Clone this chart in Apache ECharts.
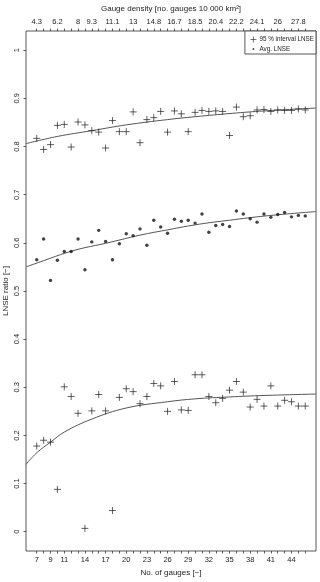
<!DOCTYPE html>
<html><head><meta charset="utf-8">
<script src="https://cdn.jsdelivr.net/npm/echarts@6/dist/echarts.min.js"></script>
<style>html,body{margin:0;padding:0;background:#fff}#c{width:320px;height:582px}</style>
</head><body><div id="c"></div>
<script>
// ---- data ----
const gauges = [7,8,9,10,11,12,13,14,15,16,17,18,19,20,21,22,23,24,25,26,27,28,29,30,31,32,33,34,35,36,37,38,39,40,41,42,43,44,45,46];
const upper95 = [0.817,0.794,0.804,0.844,0.846,0.799,0.851,0.845,0.833,0.830,0.797,0.854,0.831,0.831,0.872,0.808,0.856,0.860,0.873,0.830,0.874,0.868,0.831,0.871,0.875,0.873,0.874,0.873,0.823,0.882,0.862,0.864,0.876,0.877,0.873,0.876,0.875,0.875,0.878,0.876];
const avgLNSE = [0.565,0.608,0.522,0.564,0.582,0.582,0.608,0.544,0.602,0.626,0.603,0.565,0.598,0.619,0.615,0.629,0.595,0.647,0.633,0.620,0.649,0.645,0.647,0.641,0.660,0.622,0.636,0.638,0.634,0.666,0.660,0.650,0.643,0.660,0.653,0.659,0.663,0.654,0.657,0.656];
const lower95 = [0.178,0.190,0.186,0.088,0.301,0.281,0.246,0.007,0.251,0.285,0.251,0.044,0.279,0.297,0.291,0.266,0.281,0.308,0.303,0.250,0.312,0.253,0.252,0.326,0.326,0.281,0.268,0.277,0.294,0.312,0.290,0.259,0.275,0.261,0.303,0.261,0.273,0.270,0.261,0.261];
// fitted curves
const upperFitX = [5.44,10,15,20,26,30,35.4,40,47.56];
const upperFitY = [0.806,0.821,0.833,0.845,0.856,0.862,0.869,0.874,0.880];
const avgFitX = [5.44,8,11.4,14,17,22,26,30.7,35,40.3,47.56];
const avgFitY = [0.550,0.563,0.580,0.590,0.599,0.616,0.627,0.639,0.647,0.656,0.665];
const lowerFitX = [5.44,7,9,11,15,20,26,30,35,40,47.56];
const lowerFitY = [0.140,0.164,0.186,0.207,0.234,0.257,0.270,0.276,0.280,0.283,0.286];
// axis ticks / labels
const xTickLabels = [7,9,11,14,17,20,23,26,29,32,35,38,41,44];
const densityPos = [7,10,13,15,18,21,24,27,30,33,36,39,42,45];
const densityLabels = ['4.3','6.2','8','9.3','11.1','13','14.8','16.7','18.5','20.4','22.2','24.1','26','27.8'];
const yTicks = [0,0.1,0.2,0.3,0.4,0.5,0.6,0.7,0.8,0.9,1];
const yTickLabels = ['0','0.1','0.2','0.3','0.4','0.5','0.6','0.7','0.8','0.9','1'];

const FONT = 'Liberation Sans';
const plusPath = 'path://M0,5L10,5M5,0L5,10';
const dotPath = 'path://M0,0M10,10M3.5,5A1.5,1.5,0,1,0,6.5,5A1.5,1.5,0,1,0,3.5,5Z';
const zip = (xs, ys) => xs.map((x, i) => [x, ys[i]]);

const chart = echarts.init(document.getElementById('c'), null, {renderer: 'canvas'});
const axisCommon = {
  type: 'value', min: 5.44, max: 47.56,
  axisLine: {show: false, onZero: false}, splitLine: {show: false},
  axisTick: {show: true, length: 2.5, lineStyle: {color: '#333', width: 0.8}, customValues: gauges},
};
chart.setOption({
  animation: false,
  textStyle: {fontFamily: FONT},
  grid: {left: 26, right: 4, top: 31, bottom: 31, show: true, borderColor: '#444', borderWidth: 0.9,
    backgroundColor: '#fff', containLabel: false, outerBoundsMode: 'none'},
  xAxis: [
    Object.assign({}, axisCommon, {
      position: 'bottom',
      name: 'No. of gauges [\u2212]', nameLocation: 'middle', nameGap: 18,
      nameTextStyle: {fontFamily: FONT, fontSize: 8, color: '#222'},
      axisLabel: {customValues: xTickLabels, fontFamily: FONT, fontSize: 7.5, color: '#222', margin: 5}
    }),
    Object.assign({}, axisCommon, {
      position: 'top',
      name: 'Gauge density [no. gauges 10 000 km\u00b2]', nameLocation: 'middle', nameGap: 18,
      nameTextStyle: {fontFamily: FONT, fontSize: 8, color: '#222'},
      axisLabel: {customValues: densityPos, fontFamily: FONT, fontSize: 7.5, color: '#222', margin: 5,
        formatter: v => { const i = densityPos.indexOf(Math.round(v)); return i >= 0 ? densityLabels[i] : ''; }}
    })
  ],
  yAxis: {
    type: 'value', min: -0.04, max: 1.04,
    axisLine: {show: false, onZero: false}, splitLine: {show: false},
    axisTick: {show: true, length: 2.5, lineStyle: {color: '#333', width: 0.8}, customValues: yTicks},
    axisLabel: {customValues: yTicks, rotate: 90, fontFamily: FONT, fontSize: 7.5, color: '#222', margin: 5,
      formatter: v => { const i = yTicks.findIndex(t => Math.abs(t - v) < 1e-6); return i >= 0 ? yTickLabels[i] : ''; }},
    name: 'LNSE ratio [\u2212]', nameLocation: 'middle', nameGap: 16, nameMoveOverlap: false,
    nameTextStyle: {fontFamily: FONT, fontSize: 8, color: '#222'}
  },
  legend: {
    orient: 'vertical', right: 4, top: 31, z: 10,
    backgroundColor: '#fff', borderColor: '#444', borderWidth: 0.9, borderRadius: 0,
    padding: [3, 2, 2, 3], itemGap: 1, itemWidth: 6, itemHeight: 6,
    textStyle: {fontFamily: FONT, fontSize: 6.3, color: '#222', padding: [0, 0, 0, -2]},
    data: [
      {name: '95 % interval LNSE', icon: plusPath, itemStyle: {color: 'none', borderColor: '#222', borderWidth: 0.8}},
      {name: 'Avg. LNSE', icon: dotPath, itemStyle: {color: '#111', borderWidth: 0}}
    ]
  },
  series: [
    {type: 'line', data: zip(upperFitX, upperFitY), smooth: 0.4, showSymbol: false, silent: true,
     lineStyle: {color: '#555', width: 1}, z: 1},
    {type: 'line', data: zip(avgFitX, avgFitY), smooth: 0.4, showSymbol: false, silent: true,
     lineStyle: {color: '#555', width: 1}, z: 1},
    {type: 'line', data: zip(lowerFitX, lowerFitY), smooth: 0.4, showSymbol: false, silent: true,
     lineStyle: {color: '#555', width: 1}, z: 1},
    {name: '95 % interval LNSE', type: 'scatter', data: zip(gauges, upper95), symbol: plusPath, symbolSize: 7,
     itemStyle: {color: 'none', borderColor: '#222', borderWidth: 0.9}, z: 2},
    {name: '95 % interval LNSE', type: 'scatter', data: zip(gauges, lower95), symbol: plusPath, symbolSize: 7,
     itemStyle: {color: 'none', borderColor: '#222', borderWidth: 0.9}, z: 2},
    {name: 'Avg. LNSE', type: 'scatter', data: zip(gauges, avgLNSE), symbol: 'circle', symbolSize: 3.4,
     itemStyle: {color: '#111'}, z: 2}
  ]
});
</script>
</body></html>
